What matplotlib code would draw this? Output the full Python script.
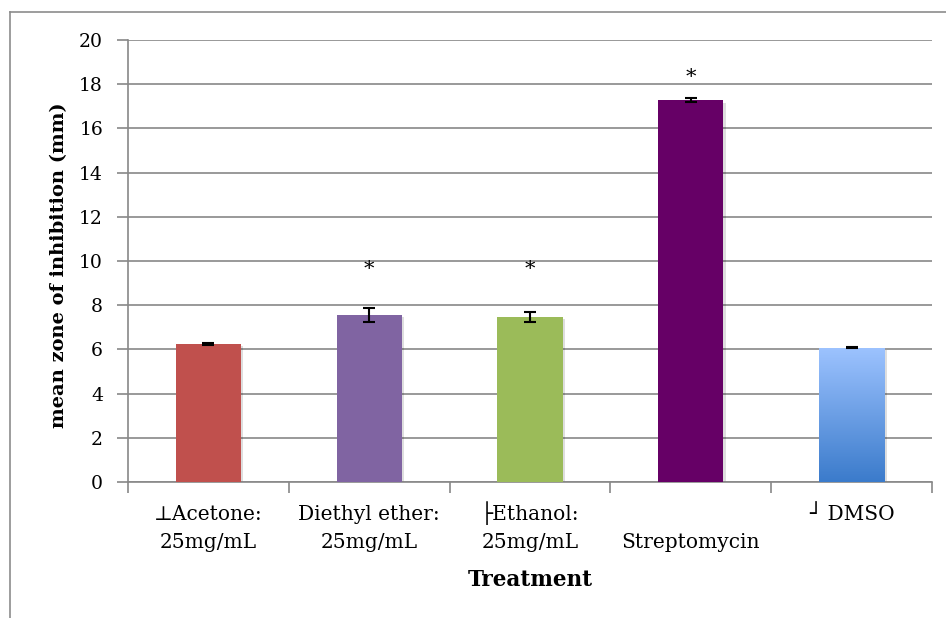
import matplotlib
matplotlib.use('Agg')
import matplotlib.pyplot as plt
from matplotlib.colors import LinearSegmentedColormap
from matplotlib.lines import Line2D
from matplotlib.transforms import ScaledTranslation
import numpy as np

''' Data read off the chart '''
labels = ['\u22a5Acetone:\n25mg/mL', 'Diethyl ether:\n25mg/mL', '\u251cEthanol:\n25mg/mL',
          '\nStreptomycin', '\u2518 DMSO']
means = [6.25, 7.57, 7.48, 17.28, 6.08]
errors = [0.05, 0.32, 0.23, 0.10, 0.03]
colors = ['#C0504D', '#8064A2', '#9BBB59', '#660066', 'none']
stars = [None, 9.6, 9.6, 18.3, None]          # height of the significance asterisk
dmso_grad = ['#9DC3FF', '#3B7BCB']            # top, bottom

plt.rcParams['font.family'] = ['DejaVu Serif', 'DejaVu Sans']
grid_col = '#888888'

fig = plt.figure(figsize=(9.46, 6.18), dpi=100)
ax = fig.add_axes([128 / 946, 1 - 482 / 618, (932 - 128) / 946, (482 - 40) / 618])

x = np.arange(len(labels))
# soft drop shadow behind the bars
shadow = ax.transData + ScaledTranslation(2.5 / 100, -2.5 / 100, fig.dpi_scale_trans)
ax.bar(x, means, width=0.405, color='k', alpha=0.13, zorder=2.5, transform=shadow)
bars = ax.bar(x, means, width=0.405, color=colors, zorder=3)
ax.errorbar(x, means, yerr=errors, fmt='none', ecolor='k', elinewidth=1.5,
            capsize=4, capthick=1.5, zorder=4)

# gradient fill for the DMSO bar
b = bars[4]
cmap = LinearSegmentedColormap.from_list('dmso', dmso_grad[::-1])
grad = np.linspace(0, 1, 256).reshape(-1, 1)
im = ax.imshow(grad, cmap=cmap, origin='lower', aspect='auto', zorder=3,
               extent=[b.get_x(), b.get_x() + b.get_width(), 0, b.get_height()])
im.set_clip_path(b)

for i, s in enumerate(stars):
    if s is not None:
        ax.text(x[i], s, '*', ha='center', va='center', fontsize=15)

ax.set_xlim(-0.5, len(labels) - 0.5)
ax.set_ylim(0, 20)
ax.set_yticks(np.arange(0, 21, 2))
ax.tick_params(axis='y', labelsize=13.5, length=8, width=1.2, color=grid_col, pad=10)
ax.set_xticks(x)
ax.set_xticklabels([])
ax.set_xticks(np.arange(-0.5, len(labels)), minor=True)
ax.tick_params(axis='x', which='major', length=0)
ax.tick_params(axis='x', which='minor', length=8, width=1.2, color=grid_col)

# category labels, one line at a time on fixed baselines
xt = ax.get_xaxis_transform()
for i, lab in enumerate(labels):
    for j, line in enumerate(lab.split('\n')):
        if line:
            off = ScaledTranslation(0, -(38 + 27.5 * j) / 100, fig.dpi_scale_trans)
            ax.text(x[i], 0, line, ha='center', va='baseline', fontsize=14.5,
                    transform=xt + off)

ax.yaxis.grid(True, color=grid_col, linewidth=1.2, zorder=0)
ax.set_axisbelow(True)
for sp in ['top', 'right']:
    ax.spines[sp].set_visible(False)
for sp in ['left', 'bottom']:
    ax.spines[sp].set_color(grid_col)
    ax.spines[sp].set_linewidth(1.2)

fig.text(530 / 946, 1 - 586 / 618, 'Treatment', ha='center', va='baseline',
         fontsize=15.5, fontweight='bold')
fig.text(59 / 946, 1 - 265 / 618, 'mean zone of inhibition (mm)', ha='center', va='center',
         rotation=90, fontsize=14, fontweight='bold')

# outer chart frame (only top and left edges visible)
fig.add_artist(Line2D([10 / 946, 1], [1 - 12 / 618] * 2, color='#8c8c8c', lw=1.2))
fig.add_artist(Line2D([10 / 946] * 2, [0, 1 - 12 / 618], color='#8c8c8c', lw=1.2))

fig.savefig('out.png', dpi=100)
